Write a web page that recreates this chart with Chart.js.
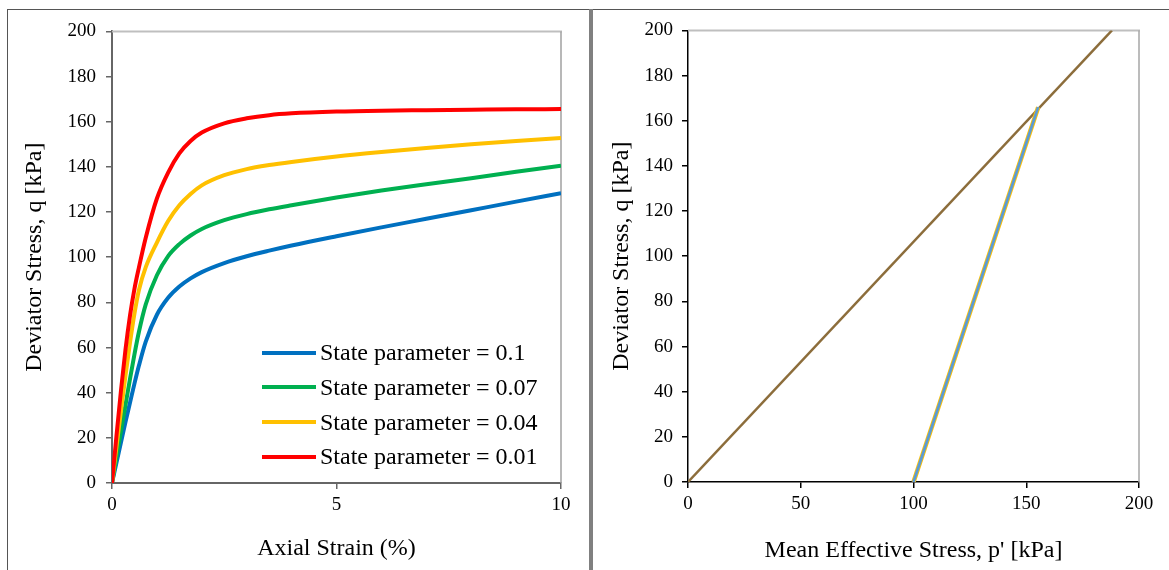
<!DOCTYPE html>
<html><head><meta charset="utf-8">
<script src="https://cdn.jsdelivr.net/npm/chart.js@4.4.1/dist/chart.umd.min.js"></script>
<style>
html,body{margin:0;padding:0;background:#fff;width:1169px;height:570px;overflow:hidden;}
.abs{position:absolute;}
#c1{position:absolute;left:8px;top:10px;}
#c2{position:absolute;left:594px;top:10px;}
.legend{position:absolute;left:262px;top:335.3px;font-family:"Liberation Serif";font-size:24px;color:#000;}
.row{display:flex;align-items:center;height:34.7px;white-space:nowrap;}
.sw{width:54px;height:4px;margin-right:4px;}
</style></head><body>
<div class="abs" style="left:7px;top:9px;width:1162px;height:1px;background:#555"></div>
<div class="abs" style="left:7px;top:9px;width:1px;height:561px;background:#555"></div>
<div class="abs" style="left:589px;top:9px;width:4px;height:561px;background:#808080"></div>
<canvas id="c1" width="581" height="560"></canvas>
<canvas id="c2" width="575" height="560"></canvas>
<div class="legend" id="legend"></div>
<script>
// ---------- data ----------
const strain    = [0, 0.1, 0.2, 0.3, 0.4, 0.5, 0.6, 0.75, 1.0, 1.25, 1.5, 1.75, 2.0, 2.5, 3, 3.5, 4, 5, 6, 7, 8, 9, 10];
const qState010 = [0, 9, 18, 27, 35.5, 44, 52, 62.5, 74.5, 82, 87, 90.6, 93.4, 97.4, 100.4, 102.9, 105.2, 109.3, 113.2, 117, 120.8, 124.6, 128.3];
const qState007 = [0, 11.5, 23, 34.5, 46, 57, 67, 79, 92, 100.5, 105.8, 109.6, 112.5, 116.4, 119.1, 121.2, 123, 126.4, 129.5, 132.3, 135, 137.8, 140.5];
const qState004 = [0, 16, 32, 47.5, 62, 75, 85.5, 95.5, 106.5, 116, 123, 128, 131.8, 136.3, 139, 140.8, 142.2, 144.6, 146.6, 148.4, 150, 151.5, 152.8];
const qState001 = [0, 21, 41, 59, 74, 86, 95.5, 108.5, 126, 137.5, 146, 151.5, 155.2, 159.3, 161.5, 162.9, 163.7, 164.5, 164.9, 165.1, 165.3, 165.5, 165.6];
const seriesNames = ['State parameter = 0.1', 'State parameter = 0.07', 'State parameter = 0.04', 'State parameter = 0.01'];

const cslP = [0, 188];
const cslQ = [0, 200];
const pathP = [100, 155.3];
const pathQ = [0, 166];

const strainTicks = [0, 5, 10];
const qTicks = [0, 20, 40, 60, 80, 100, 120, 140, 160, 180, 200];
const pTicks = [0, 50, 100, 150, 200];

// ---------- helpers ----------
const FONT = 'Liberation Serif';
const pts = (xs, ys) => xs.map((x, i) => ({x: x, y: ys[i]}));
function framePlugin(topColor, rightColor){
  return {
    id: 'frame',
    beforeDatasetsDraw(chart){
      const a = chart.chartArea, ctx = chart.ctx;
      ctx.save();
      ctx.lineWidth = 2; ctx.strokeStyle = topColor;
      ctx.beginPath(); ctx.moveTo(a.left, a.top); ctx.lineTo(a.right + 1, a.top); ctx.stroke();
      ctx.lineWidth = 1.5; ctx.strokeStyle = rightColor;
      ctx.beginPath(); ctx.moveTo(a.right, a.top); ctx.lineTo(a.right, a.bottom); ctx.stroke();
      ctx.restore();
    }
  };
}
function scaleX(min, max, ticks, title, axisColor, axisWidth, height, titlePad){
  return {
    type: 'linear', min: min, max: max,
    afterBuildTicks(s){ s.ticks = ticks.map(v => ({value: v})); },
    afterFit(s){ s.height = height; },
    ticks: {font: {family: FONT, size: 19}, color: '#000', padding: 5},
    grid: {display: true, drawOnChartArea: false, drawTicks: true, tickLength: 6, color: axisColor, lineWidth: 1.5},
    border: {display: true, color: axisColor, width: axisWidth},
    title: {display: true, text: title, font: {family: FONT, size: 24}, color: '#000', padding: {top: 0, bottom: titlePad}}
  };
}
function scaleY(ticks, title, axisColor, axisWidth, width, labelPad, titlePad){
  return {
    type: 'linear', min: 0, max: 200,
    afterBuildTicks(s){ s.ticks = ticks.map(v => ({value: v})); },
    afterFit(s){ s.width = width; },
    ticks: {font: {family: FONT, size: 19}, color: '#000', padding: labelPad},
    grid: {display: true, drawOnChartArea: false, drawTicks: true, tickLength: 6, color: axisColor, lineWidth: 1.5},
    border: {display: true, color: axisColor, width: axisWidth},
    title: {display: true, text: title, font: {family: FONT, size: 24}, color: '#000', padding: {top: titlePad, bottom: 0}}
  };
}

// ---------- left chart ----------
const leftColors = ['#0070C0', '#00B050', '#FFC000', '#FF0000'];
const leftSeries = [qState010, qState007, qState004, qState001];
const chart1 = new Chart(document.getElementById('c1'), {
  type: 'scatter',
  data: {
    datasets: leftSeries.map((q, i) => ({
      label: seriesNames[i], data: pts(strain, q), showLine: true,
      order: leftSeries.length - i,
      borderColor: leftColors[i], backgroundColor: leftColors[i], borderWidth: 4,
      pointRadius: 0, cubicInterpolationMode: 'monotone', fill: false
    }))
  },
  options: {
    responsive: false, animation: false, devicePixelRatio: 1,
    layout: {padding: {top: 14, right: 28, left: 0, bottom: 0}},
    plugins: {legend: {display: false}, tooltip: {enabled: false}},
    scales: {
      x: scaleX(0, 10, strainTicks, 'Axial Strain (%)', '#666', 2, 87, 7),
      y: scaleY(qTicks, 'Deviator Stress, q [kPa]', '#666', 2, 104, 10, 12)
    }
  },
  plugins: [framePlugin('#bfbfbf', '#a0a0a0')]
});

// HTML legend from the datasets
const lg = document.getElementById('legend');
chart1.data.datasets.forEach(ds => {
  const row = document.createElement('div'); row.className = 'row';
  const sw = document.createElement('span'); sw.className = 'sw'; sw.style.background = ds.borderColor;
  const tx = document.createElement('span'); tx.textContent = ds.label;
  row.appendChild(sw); row.appendChild(tx); lg.appendChild(row);
});

// ---------- right chart ----------
new Chart(document.getElementById('c2'), {
  type: 'scatter',
  data: {
    datasets: [
      {label: 'CSL', order: 3, data: pts(cslP, cslQ), showLine: true, borderColor: '#8C6D3B', borderWidth: 2.5, pointRadius: 0},
      {label: 'Stress path (0.04)', order: 2, data: pts(pathP, pathQ), showLine: true, borderColor: '#FFC000', borderWidth: 4.5, pointRadius: 0},
      {label: 'Stress path (0.1)', order: 1, data: pts(pathP, pathQ), showLine: true, borderColor: '#5B9BD5', borderWidth: 2.8, pointRadius: 0}
    ]
  },
  options: {
    responsive: false, animation: false, devicePixelRatio: 1,
    layout: {padding: {top: 15, right: 30, left: 0, bottom: 0}},
    plugins: {legend: {display: false}, tooltip: {enabled: false}},
    scales: {
      x: scaleX(0, 200, pTicks, "Mean Effective Stress, p' [kPa]", '#000', 1.5, 88, 5),
      y: scaleY(qTicks, 'Deviator Stress, q [kPa]', '#000', 1.5, 94, 9, 13)
    }
  },
  plugins: [framePlugin('#bfbfbf', '#a6a6a6')]
});
</script>
</body></html>
